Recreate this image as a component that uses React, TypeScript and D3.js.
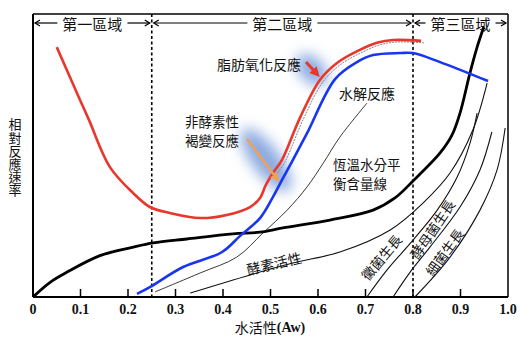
import React from 'react';
import * as d3 from 'd3';

type P = [number, number];

// x: water activity (Aw), y: relative reaction rate (0-100)
const lipidOxidation: P[] = [
  [0.05, 88.3], [0.099, 69.6], [0.118, 62.5], [0.162, 45.9], [0.211, 36.7], [0.246, 31.8],
  [0.288, 29.7], [0.352, 27.9], [0.408, 29.0], [0.457, 31.8], [0.478, 35.0], [0.49, 39.5],
  [0.505, 43.8], [0.524, 48.4], [0.562, 63.3], [0.604, 76.7], [0.64, 82.7], [0.688, 87.3],
  [0.724, 89.8], [0.758, 90.8], [0.817, 90.5],
];
const hydrolysis: P[] = [
  [0.219, 1.1], [0.246, 3.5], [0.316, 10.6], [0.398, 15.9], [0.436, 21.6], [0.478, 27.9],
  [0.505, 35.3], [0.524, 41.3], [0.547, 48.4], [0.577, 57.9], [0.636, 77.0], [0.682, 83.0],
  [0.716, 85.5], [0.773, 86.2], [0.8, 86.2], [0.857, 83.0], [0.958, 76.3],
];
const isotherm: P[] = [
  [0, 0], [0.036, 5.2], [0.072, 8.8], [0.141, 14.6], [0.211, 17.6], [0.253, 19.1], [0.324, 20.5],
  [0.421, 22.3], [0.478, 22.9], [0.526, 24.4], [0.625, 27.2], [0.716, 30.7], [0.762, 35.0],
  [0.8, 41.0], [0.857, 50.9], [0.882, 57.2], [0.899, 65.0], [0.92, 79.2], [0.935, 88.3], [0.949, 95.4],
];
const browning: P[] = [
  [0.257, 1.8], [0.352, 8.5], [0.429, 14.1], [0.484, 22.6], [0.535, 30.7], [0.577, 38.9],
  [0.611, 47.3], [0.646, 56.5], [0.703, 68.5],
];
const enzymeActivity: P[] = [
  [0.331, 1.4], [0.457, 7.8], [0.547, 12.0], [0.646, 15.9], [0.752, 23.7], [0.821, 33.2],
  [0.878, 43.8], [0.926, 59.0], [0.956, 75.6],
];
const moldGrowth: P[] = [
  [0.703, 0], [0.745, 9.5], [0.8, 20.1], [0.851, 30.7], [0.893, 42.4], [0.92, 54.4], [0.935, 65.0],
];
const yeastGrowth: P[] = [
  [0.758, 0], [0.794, 8.8], [0.836, 17.7], [0.899, 31.8], [0.941, 44.9], [0.966, 58.3],
];
const bacteriaGrowth: P[] = [
  [0.804, 0], [0.878, 14.1], [0.941, 30.7], [0.977, 44.9], [0.994, 59.7],
];

const xTicks = [0, 0.1, 0.2, 0.3, 0.4, 0.5, 0.6, 0.7, 0.8, 0.9, 1.0];
const xTickLabels = ['0', '0.1', '0.2', '0.3', '0.4', '0.5', '0.6', '0.7', '0.8', '0.9', '1.0'];
const zoneBounds = [0, 0.25, 0.8, 1.0];
const zoneNames = ['第一區域', '第二區域', '第三區域'];
const yLabel = '相對反應速率';
const xLabelCJK = '水活性';
const xLabelLatin = '(Aw)';

const CJK = "'Noto Sans CJK TC', 'Noto Sans CJK SC', sans-serif";
const SERIF = "'Liberation Serif', 'DejaVu Serif', serif";

export default function App() {
  const W = 520, H = 345;
  const left = 33, right = 508, top = 14, bottom = 297;
  const x = d3.scaleLinear().domain([0, 1]).range([left, right]);
  const y = d3.scaleLinear().domain([0, 100]).range([bottom, top]);
  const line = d3.line<P>().x(d => x(d[0])).y(d => y(d[1])).curve(d3.curveCatmullRom.alpha(0.5));

  const RED = '#e8372c';
  const BLUE = '#1836f2';

  const headerY = 23;
  const zoneFs = 15;

  return (
    <div style={{ position: 'absolute', left: 0, top: 0 }}>
      <svg width={W} height={H} viewBox={`0 0 ${W} ${H}`} style={{ display: 'block', background: '#fff' }}>
        <defs>
          <filter id="glow" x="-100%" y="-100%" width="300%" height="300%">
            <feGaussianBlur stdDeviation="7" />
          </filter>
          <marker id="redHead" viewBox="0 0 10 10" refX="6" refY="5" markerUnits="userSpaceOnUse" markerWidth="10" markerHeight="10" orient="auto">
            <path d="M0,0 L10,5 L0,10 z" fill={RED} />
          </marker>
          <marker id="orgHead" viewBox="0 0 10 10" refX="6" refY="5" markerUnits="userSpaceOnUse" markerWidth="9" markerHeight="9" orient="auto">
            <path d="M0,0 L10,5 L0,10 z" fill="#f0a055" />
          </marker>
        </defs>

        {/* glows */}
        <g filter="url(#glow)" opacity={0.8}>
          <ellipse cx={312} cy={70} rx={19} ry={12} transform="rotate(45 312 70)" fill="#6f95d8" />
          <ellipse cx={266} cy={160} rx={38} ry={14} transform="rotate(53 266 160)" fill="#6f95d8" />
        </g>

        {/* frame */}
        <line x1={left} y1={top} x2={right} y2={top} stroke="#000" strokeWidth={1.5} />
        <line x1={right} y1={top} x2={right} y2={bottom} stroke="#000" strokeWidth={1.5} />
        <line x1={left} y1={top} x2={left} y2={bottom} stroke="#000" strokeWidth={2} />
        <line x1={left} y1={bottom} x2={right} y2={bottom} stroke="#000" strokeWidth={2} />

        {/* zone separators */}
        {zoneBounds.slice(1, -1).map((b, i) => (
          <line key={i} x1={x(b)} x2={x(b)} y1={top} y2={bottom} stroke="#000" strokeWidth={1.6} strokeDasharray="3,2.5" />
        ))}

        {/* zone header arrows */}
        {zoneNames.map((name, i) => {
          const a = x(zoneBounds[i]) + 2;
          const b = x(zoneBounds[i + 1]) - 2;
          const c = (a + b) / 2;
          const half = (name.length * zoneFs) / 2 + 5;
          const ah = 5;
          return (
            <g key={i}>
              <line x1={a} y1={headerY} x2={c - half} y2={headerY} stroke="#000" strokeWidth={1.2} />
              <line x1={c + half} y1={headerY} x2={b} y2={headerY} stroke="#000" strokeWidth={1.2} />
              <polyline points={`${a + ah},${headerY - 3} ${a},${headerY} ${a + ah},${headerY + 3}`} fill="none" stroke="#000" strokeWidth={1.2} />
              <polyline points={`${b - ah},${headerY - 3} ${b},${headerY} ${b - ah},${headerY + 3}`} fill="none" stroke="#000" strokeWidth={1.2} />
              <text x={c} y={headerY} textAnchor="middle" dominantBaseline="central" fontFamily={CJK} fontSize={zoneFs} fill="#111">{name}</text>
            </g>
          );
        })}

        {/* ticks */}
        {xTicks.slice(1, -1).map((t, i) => (
          <line key={i} x1={x(t)} x2={x(t)} y1={bottom} y2={bottom - 8} stroke="#000" strokeWidth={1.5} />
        ))}
        {xTicks.map((t, i) => (
          <text key={i} x={x(t)} y={309} textAnchor="middle" dominantBaseline="central" fontFamily={SERIF} fontSize={14} fontWeight={600} fill="#111">{xTickLabels[i]}</text>
        ))}

        {/* x label */}
        <text x={270} y={327} textAnchor="middle" dominantBaseline="central" fontSize={14} fill="#111">
          <tspan fontFamily={CJK}>{xLabelCJK}</tspan>
          <tspan fontFamily={SERIF} fontWeight={600}>{xLabelLatin}</tspan>
        </text>

        {/* y label (vertical) */}
        <text x={15} y={118} fontFamily={CJK} fontSize={13} fill="#111" letterSpacing={0.2} style={{ writingMode: 'vertical-rl' } as any}>{yLabel}</text>

        {/* thin curves */}
        <path d={line(browning) || ''} fill="none" stroke="#222" strokeWidth={0.9} />
        <path d={line(enzymeActivity) || ''} fill="none" stroke="#111" strokeWidth={1.1} />
        <path d={line(moldGrowth) || ''} fill="none" stroke="#111" strokeWidth={1.1} />
        <path d={line(yeastGrowth) || ''} fill="none" stroke="#111" strokeWidth={1.1} />
        <path d={line(bacteriaGrowth) || ''} fill="none" stroke="#111" strokeWidth={1.1} />

        {/* gray companion of lipid oxidation */}
        <path d={line(lipidOxidation.filter(d => d[0] >= 0.5)) || ''} transform="translate(3,2)" fill="none" stroke="#888" strokeWidth={1} strokeDasharray="2,1" />

        {/* main curves */}
        <path d={line(isotherm) || ''} fill="none" stroke="#000" strokeWidth={2.8} />
        <path d={line(lipidOxidation) || ''} fill="none" stroke={RED} strokeWidth={2.6} />
        <path d={line(hydrolysis) || ''} fill="none" stroke={BLUE} strokeWidth={2.6} />

        {/* annotations */}
        <text x={217} y={64} dominantBaseline="central" fontFamily={CJK} fontSize={14} fill="#111">脂肪氧化反應</text>
        <line x1={306} y1={62} x2={317} y2={74} stroke={RED} strokeWidth={3} markerEnd="url(#redHead)" />
        <text x={339} y={93} dominantBaseline="central" fontFamily={CJK} fontSize={14} fill="#111">水解反應</text>
        <text x={185} y={121} dominantBaseline="central" fontFamily={CJK} fontSize={13.5} fill="#111">非酵素性</text>
        <text x={185} y={140} dominantBaseline="central" fontFamily={CJK} fontSize={13.5} fill="#111">褐變反應</text>
        <line x1={247} y1={139} x2={277} y2={179} stroke="#f0a055" strokeWidth={2.5} markerEnd="url(#orgHead)" />
        <text x={333} y={164} dominantBaseline="central" fontFamily={CJK} fontSize={13.5} fill="#111">恆溫水分平</text>
        <text x={333} y={183} dominantBaseline="central" fontFamily={CJK} fontSize={13.5} fill="#111">衡含量線</text>

        <text transform="translate(274,263) rotate(-13)" textAnchor="middle" dominantBaseline="central" fontFamily={CJK} fontSize={14} fill="#111">酵素活性</text>
        <text transform="translate(381,257) rotate(-50)" textAnchor="middle" dominantBaseline="central" fontFamily={CJK} fontSize={13.5} fill="#111">黴菌生長</text>
        <text transform="translate(432,229) rotate(-56)" textAnchor="middle" dominantBaseline="central" fontFamily={CJK} fontSize={13.5} fill="#111">酵母菌生長</text>
        <text transform="translate(444,252) rotate(-54)" textAnchor="middle" dominantBaseline="central" fontFamily={CJK} fontSize={13.5} fill="#111">細菌生長</text>
      </svg>
    </div>
  );
}
